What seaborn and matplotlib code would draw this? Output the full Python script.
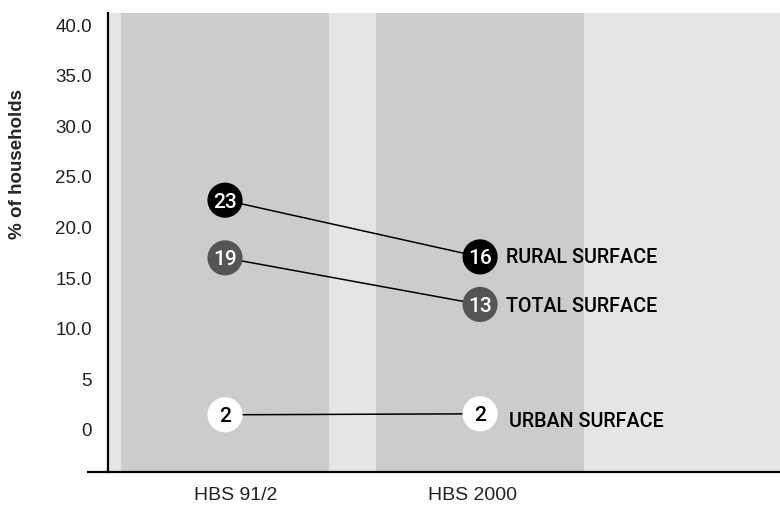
import pandas as pd
import matplotlib
matplotlib.use("Agg")
import matplotlib.pyplot as plt
import seaborn as sns

# --- data ---
surveys = ["HBS 91/2", "HBS 2000"]
series_names = ["RURAL SURFACE", "TOTAL SURFACE", "URBAN SURFACE"]
# plotted heights (as drawn on the y scale) and the printed values in the dots
rural_y = [22.7, 17.1]
total_y = [17.0, 12.4]
urban_y = [1.5, 1.6]
rural_txt = ["23", "16"]
total_txt = ["19", "13"]
urban_txt = ["2", "2"]
ytick_vals = [0, 5, 10, 15, 20, 25, 30, 35, 40]
ytick_labels = ["0", "5", "10.0", "15.0", "20.0", "25.0", "30.0", "35.0", "40.0"]

rows = []
for name, ys, txts in zip(series_names, [rural_y, total_y, urban_y], [rural_txt, total_txt, urban_txt]):
    for s, y, t in zip(surveys, ys, txts):
        rows.append({"survey": s, "series": name, "y": y, "txt": t})
df = pd.DataFrame(rows)
df["x"] = df["survey"].map({s: i for i, s in enumerate(surveys)})

dot_colors = {"RURAL SURFACE": "#000000", "TOTAL SURFACE": "#555555", "URBAN SURFACE": "#ffffff"}
txt_colors = {"RURAL SURFACE": "white", "TOTAL SURFACE": "white", "URBAN SURFACE": "black"}
label_offsets = {"RURAL SURFACE": (19, 1), "TOTAL SURFACE": (19, 0), "URBAN SURFACE": (21, -4)}

# --- style ---
sns.set_style("white")
plt.rcParams["font.family"] = ["Liberation Sans", "DejaVu Sans"]
cond = ["Roboto", "DejaVu Sans"]  # narrowest installed face, stands in for the condensed one

fig = plt.figure(figsize=(7.8, 5.08), dpi=100)
ax = fig.add_axes([108 / 780, (508 - 471.7) / 508, 672 / 780, (471.7 - 13) / 508])
ax.set_facecolor("#e5e5e5")

for c in range(len(surveys)):
    ax.axvspan(c - 0.408, c + 0.408, color="#cccccc", lw=0, zorder=0)

sns.lineplot(data=df, x="x", y="y", hue="series", palette=["black"] * 3,
             linewidth=1.1, legend=False, ax=ax, zorder=2)
sns.scatterplot(data=df, x="x", y="y", hue="series", palette=dot_colors,
                s=640, linewidth=0, legend=False, ax=ax, zorder=3)

for _, r in df.iterrows():
    ax.text(r["x"], r["y"], r["txt"], ha="center", va="center_baseline",
            color=txt_colors[r["series"]], fontsize=15, family=cond,
            fontweight="medium", zorder=4)

last = df[df["x"] == len(surveys) - 1]
for _, r in last.iterrows():
    ax.annotate(r["series"], (r["x"], r["y"]), xytext=label_offsets[r["series"]],
                textcoords="offset points", ha="left", va="center_baseline",
                fontsize=14.2, family=cond, fontweight="medium", color="black")

ax.set_xlim(-0.4588, 2.176)
ax.set_ylim(-4.12, 41.19)
ax.set_xticks([0.04, 0.97])
ax.set_xticklabels(surveys, fontsize=14)
ax.set_yticks(ytick_vals)
ax.set_yticklabels(ytick_labels, fontsize=13.5)
ax.tick_params(axis="x", length=0, pad=11, colors="#222222")
ax.tick_params(axis="y", length=0, pad=11.5, colors="#222222")
ax.set_xlabel("")
ax.set_ylabel("% of households", fontsize=13.5, fontweight="bold", va="center")
ax.yaxis.set_label_coords(-0.1347, (471.7 - 164) / 458.7)

for side in ["top", "right"]:
    ax.spines[side].set_visible(False)
for side in ["left", "bottom"]:
    ax.spines[side].set_color("black")
    ax.spines[side].set_linewidth(1.6)
# the x axis line runs a little past the y axis
ax.plot([-21 / 672, 0], [0, 0], transform=ax.transAxes, color="black",
        lw=1.6, clip_on=False, solid_capstyle="butt")

fig.savefig("out.png", dpi=100)
